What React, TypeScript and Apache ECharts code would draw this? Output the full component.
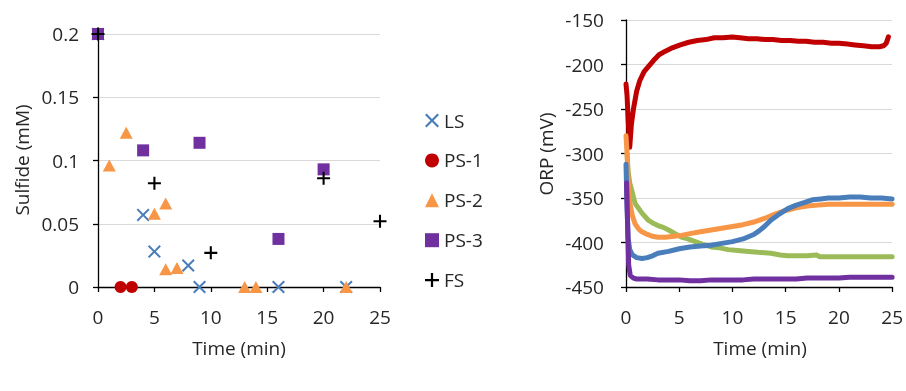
import React, { useEffect, useRef } from "react";
import * as echarts from "echarts";

// ---------- Left chart: sulfide (mM) vs time (min) ----------
const lsData = [[0, 0.2], [4, 0.057], [5, 0.028], [8, 0.017], [9, 0], [16, 0], [22, 0]];
const ps1Data = [[0, 0.2], [2, 0], [3, 0]];
const ps2Data = [[0, 0.2], [1, 0.096], [2.5, 0.122], [5, 0.058], [6, 0.066], [6, 0.014], [7, 0.015], [13, 0], [14, 0], [22, 0]];
const ps3Data = [[0, 0.2], [4, 0.108], [9, 0.114], [16, 0.038], [20, 0.093]];
const fsData = [[0, 0.2], [5, 0.082], [10, 0.027], [20, 0.086], [25, 0.052]];
const legendNames = ["LS", "PS-1", "PS-2", "PS-3", "FS"];

// ---------- Right chart: ORP (mV) vs time (min) ----------
const orpRed = [[0, -222], [0.1, -235], [0.2, -262], [0.35, -293], [0.5, -268], [0.7, -250], [1, -230], [1.3, -218], [1.7, -208], [2.2, -201], [2.7, -194], [3.1, -189], [3.7, -185], [4.4, -181], [5.1, -178], [5.9, -175], [6.7, -173], [7.5, -172], [8.3, -170], [9.1, -170], [10, -169], [10.7, -170], [11.5, -171], [12.3, -171], [13.1, -172], [13.8, -172], [14.6, -173], [15.4, -173], [16.2, -174], [16.9, -174], [17.7, -175], [18.5, -175], [19.3, -176], [20, -176], [20.8, -177], [21.5, -178], [22.3, -179], [23.1, -180], [23.8, -180], [24.2, -179], [24.45, -176], [24.65, -169]];
const orpBlue = [[0, -312], [0.1, -360], [0.2, -395], [0.35, -408], [0.6, -414], [1, -417], [1.5, -418], [2, -417], [2.5, -415], [3, -412], [4, -410], [5, -407], [6, -405], [7, -404], [8, -403], [9, -401], [10, -399], [11, -396], [12, -391], [12.5, -387], [13, -382], [13.6, -375], [14.4, -368], [15.2, -362], [16, -358], [16.8, -355], [17.5, -352], [18.3, -351], [19, -350], [20, -350], [21, -349], [22, -349], [23, -350], [24, -350], [25, -351]];
const orpOrange = [[0, -280], [0.1, -300], [0.2, -330], [0.35, -355], [0.6, -370], [0.85, -379], [1.2, -385], [1.5, -388], [2, -391], [2.5, -393], [3, -394], [3.7, -394], [4.5, -393], [5.2, -392], [6, -390], [7, -388], [8, -386], [9, -384], [10, -382], [11, -380], [12, -377], [13, -373], [14, -368], [15, -364], [16, -361], [17, -359], [18, -358], [19, -357], [20, -357], [21, -357], [22, -357], [23, -357], [24, -357], [25, -357]];
const orpGreen = [[0.1, -300], [0.2, -320], [0.35, -333], [0.55, -342], [0.85, -356], [1.2, -362], [1.5, -367], [2.1, -375], [2.5, -378], [3, -381], [3.5, -383], [4, -386], [4.6, -390], [5.2, -394], [5.8, -396], [6.5, -399], [7.2, -402], [8, -405], [8.8, -406], [9.6, -408], [10.5, -409], [11.5, -410], [12.4, -411], [13.6, -412], [14.5, -414], [15.2, -415], [16, -415], [17, -415], [17.9, -414], [18.2, -416], [19, -416], [20, -416], [21, -416], [22, -416], [23, -416], [24, -416], [25, -416]];
const orpPurple = [[0.05, -333], [0.15, -380], [0.25, -425], [0.4, -437], [0.7, -440], [1, -441], [2, -441], [3, -442], [4, -442], [5, -442], [6, -443], [7, -443], [8, -442], [9, -442], [10, -442], [11, -442], [12, -441], [13, -441], [14, -441], [15, -441], [16, -441], [17, -440], [18, -440], [19, -440], [20, -440], [21, -439], [22, -439], [23, -439], [24, -439], [25, -439]];

const FONT = '"Open Sans", sans-serif';
const FS = 19;
const TXT = "#262626";
const GRID = "#d9d9d9";

const PLUS = "path://M4.2,0H5.8V4.2H10V5.8H5.8V10H4.2V5.8H0V4.2H4.2Z";
const CROSS = "path://M0,1.1L1.1,0L5,3.9L8.9,0L10,1.1L6.1,5L10,8.9L8.9,10L5,6.1L1.1,10L0,8.9L3.9,5Z";

function axisX(gridIndex: number) {
  return {
    type: "value",
    gridIndex,
    min: 0,
    max: 25,
    interval: 5,
    axisLine: { show: true, onZero: false, lineStyle: { color: "#000", width: 1.3 } },
    axisTick: { show: true, length: 5, lineStyle: { color: "#000", width: 1.3 } },
    axisLabel: { color: TXT, fontSize: FS, fontFamily: FONT, margin: 20 },
    splitLine: { show: false },
  };
}

function axisY(gridIndex: number, min: number, max: number, interval: number, margin: number) {
  return {
    type: "value",
    gridIndex,
    min,
    max,
    interval,
    axisLine: { show: true, onZero: false, lineStyle: { color: "#000", width: 1.3 } },
    axisTick: { show: true, length: 5, lineStyle: { color: "#000", width: 1.3 } },
    axisLabel: { color: TXT, fontSize: FS, fontFamily: FONT, margin },
    splitLine: { show: true, lineStyle: { color: GRID, width: 1 } },
  };
}

function orpLine(name: string, data: number[][], color: string) {
  return {
    name,
    type: "line",
    xAxisIndex: 1,
    yAxisIndex: 1,
    data,
    showSymbol: false,
    symbol: "none",
    clip: false,
    lineStyle: { color, width: 5, join: "round", cap: "round" },
  };
}

export default function App() {
  const ref = useRef<HTMLDivElement>(null);
  useEffect(() => {
    if (!ref.current) return;
    const chart = echarts.init(ref.current, undefined, { renderer: "svg" });
    const scatter = (name: string, data: number[][], symbol: string, size: any, color: string) => ({
      name,
      type: "scatter",
      xAxisIndex: 0,
      yAxisIndex: 0,
      data,
      symbol,
      symbolSize: size,
      clip: false,
      itemStyle: { color, opacity: 1 },
    });
    const title = (text: string, x: number, y: number, rot: number) => ({
      type: "text",
      x,
      y,
      rotation: rot,
      style: { text, fill: TXT, font: `${FS}px ${FONT}`, textAlign: "center", textVerticalAlign: "middle" },
    });
    chart.setOption({
      animation: false,
      textStyle: { fontFamily: FONT },
      grid: [
        { left: 98, top: 34, width: 282, height: 253 },
        { left: 626, top: 20, width: 268, height: 267 },
      ],
      xAxis: [axisX(0), axisX(1)],
      yAxis: [axisY(0, 0, 0.2, 0.05, 19), axisY(1, -450, -150, 50, 22)],
      legend: {
        data: legendNames,
        orient: "vertical",
        left: 425,
        top: 111,
        padding: 0,
        itemWidth: 14,
        itemHeight: 14,
        itemGap: 20.9,
        textStyle: { color: TXT, fontSize: FS, fontFamily: FONT },
      },
      graphic: [
        title("Time (min)", 239, 348, 0),
        title("Time (min)", 760, 348, 0),
        title("Sulfide (mM)", 22, 160, Math.PI / 2),
        title("ORP (mV)", 546, 154, Math.PI / 2),
      ],
      series: [
        scatter("LS", lsData, CROSS, 13, "#4a7ebb"),
        scatter("PS-1", ps1Data, "circle", 12, "#c00000"),
        scatter("PS-2", ps2Data, "triangle", [13, 12], "#f79646"),
        scatter("PS-3", ps3Data, "rect", 12, "#7030a0"),
        scatter("FS", fsData, PLUS, 13, "#000000"),
        orpLine("ORP-PS-1", orpRed, "#c00000"),
        orpLine("ORP-PS-3", orpGreen, "#9bbb59"),
        orpLine("ORP-PS-2", orpOrange, "#f79646"),
        orpLine("ORP-LS", orpBlue, "#4a7ebb"),
        orpLine("ORP-FS", orpPurple, "#7030a0"),
      ],
    });
    return () => chart.dispose();
  }, []);
  return <div ref={ref} style={{ position: "fixed", left: 0, top: 0, width: 906, height: 391 }} />;
}
